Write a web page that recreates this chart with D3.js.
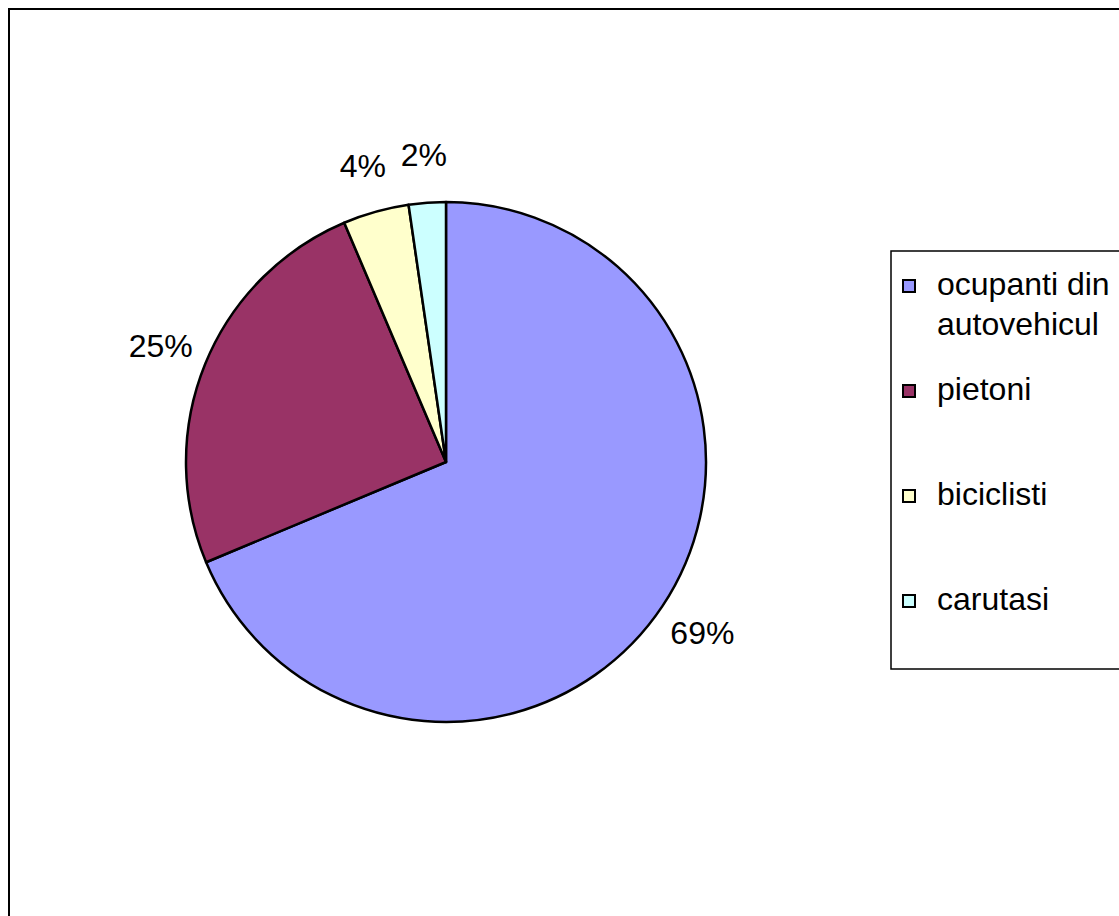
<!DOCTYPE html>
<meta charset="utf-8">
<script src="https://d3js.org/d3.v7.min.js"></script>
<style>
  body { margin: 0; background: #fff; }
  text { font-family: "Liberation Sans", Arial, sans-serif; }
</style>
<div id="chart"></div>
<script>

// slices, clockwise from 12 o'clock
var categories = ["ocupanti din autovehicul", "pietoni", "biciclisti", "carutasi"];
var legendLines = [["ocupanti din", "autovehicul"], ["pietoni"], ["biciclisti"], ["carutasi"]];
var values = [68.7, 24.9, 4.1, 2.3];
var labels = ["69%", "25%", "4%", "2%"];
var colors = ["#9999ff", "#993366", "#ffffcc", "#ccffff"];

var width = 1119, height = 916;
var cx = 446, cy = 462, radius = 260;

var svg = d3.select("#chart")
  .append("svg")
    .attr("width", width)
    .attr("height", height);

// outer frame (runs off the right and bottom edges)
svg.append("rect")
  .attr("x", 9).attr("y", 9)
  .attr("width", width + 20).attr("height", height + 20)
  .attr("fill", "none")
  .attr("stroke", "#000")
  .attr("stroke-width", 2);

var pie = d3.pie().sort(null).value(function(d) { return d; });
var arcs = pie(values);

var arc = d3.arc().innerRadius(0).outerRadius(radius);
var labelArc = d3.arc().innerRadius(308).outerRadius(308);

var g = svg.append("g")
  .attr("transform", "translate(" + cx + "," + cy + ")");

g.selectAll("path")
  .data(arcs)
  .enter()
  .append("path")
    .attr("d", arc)
    .attr("fill", function(d, i) { return colors[i]; })
    .attr("stroke", "#000")
    .attr("stroke-width", 2.5)
    .attr("stroke-linejoin", "round");

g.selectAll(".lbl")
  .data(arcs)
  .enter()
  .append("text")
    .attr("class", "lbl")
    .attr("transform", function(d) { return "translate(" + labelArc.centroid(d) + ")"; })
    .attr("text-anchor", "middle")
    .attr("dy", "0.35em")
    .attr("font-size", 32)
    .text(function(d, i) { return labels[i]; });

// legend
var legend = svg.append("g");

legend.append("rect")
  .attr("x", 891).attr("y", 251)
  .attr("width", 260).attr("height", 418)
  .attr("fill", "#fff")
  .attr("stroke", "#000")
  .attr("stroke-width", 1.5);

var rowY = [295, 400, 505, 610];

var item = legend.selectAll(".item")
  .data(categories)
  .enter()
  .append("g")
    .attr("class", "item")
    .attr("transform", function(d, i) { return "translate(0," + rowY[i] + ")"; });

item.append("rect")
  .attr("x", 903).attr("y", -15)
  .attr("width", 12).attr("height", 12)
  .attr("fill", function(d, i) { return colors[i]; })
  .attr("stroke", "#000")
  .attr("stroke-width", 2);

item.append("text")
  .attr("x", 937)
  .attr("font-size", 32)
  .each(function(d, i) {
    var t = d3.select(this);
    legendLines[i].forEach(function(line, j) {
      t.append("tspan").attr("x", 937).attr("dy", j ? 40 : 0).text(line);
    });
  });

</script>
